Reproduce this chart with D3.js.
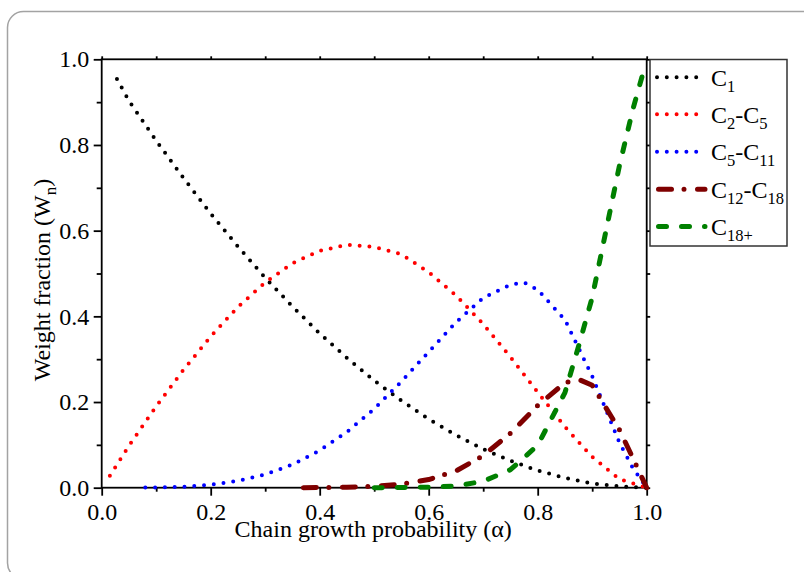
<!DOCTYPE html>
<html>
<head>
<meta charset="utf-8">
<script src="https://cdn.jsdelivr.net/npm/d3@7"></script>
<style>
  html, body { margin: 0; padding: 0; background: #fff; }
  svg { display: block; font-family: "Liberation Serif", "Times New Roman", serif; }
</style>
</head>
<body>
<svg id="chart" width="804" height="572"></svg>
<script>
// Chain growth probability (alpha) sample points and weight fractions per product cut
const alphaC1 = [0.028, 0.05, 0.1, 0.15, 0.2, 0.25, 0.3, 0.35, 0.4, 0.45, 0.5, 0.55, 0.6, 0.65, 0.7, 0.75, 0.8, 0.85, 0.9, 0.95, 1.0];
const wC1     = [0.954, 0.903, 0.81, 0.723, 0.64, 0.563, 0.49, 0.423, 0.36, 0.303, 0.25, 0.203, 0.16, 0.123, 0.09, 0.063, 0.04, 0.023, 0.01, 0.003, 0];

const alphaC2C5 = [0.015, 0.05, 0.1, 0.15, 0.2, 0.25, 0.3, 0.35, 0.4, 0.45, 0.5, 0.55, 0.6, 0.65, 0.7, 0.75, 0.8, 0.85, 0.9, 0.95, 1.0];
const wC2C5     = [0.028, 0.098, 0.19, 0.275, 0.353, 0.422, 0.479, 0.524, 0.553, 0.567, 0.562, 0.545, 0.503, 0.449, 0.382, 0.305, 0.223, 0.142, 0.072, 0.02, 0];

const alphaC5C11 = [0.08, 0.1, 0.15, 0.2, 0.25, 0.3, 0.35, 0.4, 0.45, 0.5, 0.55, 0.6, 0.65, 0.7, 0.75, 0.775, 0.8, 0.85, 0.9, 0.95, 0.975, 1.0];
const wC5C11     = [0.0002, 0.0005, 0.002, 0.007, 0.016, 0.031, 0.054, 0.087, 0.13, 0.184, 0.248, 0.317, 0.386, 0.443, 0.474, 0.479, 0.462, 0.392, 0.26, 0.105, 0.045, 0];

const alphaC12C18 = [0.37, 0.4, 0.45, 0.5, 0.55, 0.6, 0.65, 0.7, 0.75, 0.8, 0.85, 0.875, 0.9, 0.95, 0.975, 1.0];
const wC12C18     = [0, 0.0003, 0.001, 0.003, 0.008, 0.019, 0.039, 0.075, 0.127, 0.192, 0.245, 0.253, 0.239, 0.135, 0.068, 0];

const alphaC18p = [0.5, 0.55, 0.6, 0.65, 0.7, 0.75, 0.8, 0.85, 0.875, 0.9, 0.925, 0.95, 0.975, 0.992];
const wC18p     = [0, 0.0005, 0.001, 0.004, 0.015, 0.042, 0.099, 0.222, 0.33, 0.444, 0.598, 0.752, 0.885, 0.962];

// Legend labels: alternating normal / subscript parts
const labelC1     = ["C", "1"];
const labelC2C5   = ["C", "2", "-C", "5"];
const labelC5C11  = ["C", "5", "-C", "11"];
const labelC12C18 = ["C", "12", "-C", "18"];
const labelC18p   = ["C", "18+"];

const majorTicks = [0, 0.2, 0.4, 0.6, 0.8, 1.0];
const minorTicks = [0.1, 0.3, 0.5, 0.7, 0.9];
const allTicks   = [0, 0.1, 0.2, 0.3, 0.4, 0.5, 0.6, 0.7, 0.8, 0.9, 1.0];

const xTitle = "Chain growth probability (\u03b1)";

// Line styles per series
const styles = [
  { color: "#000000", width: 4, dash: "0 9.8" },
  { color: "#ff0000", width: 4, dash: "0 9.8" },
  { color: "#0000ff", width: 4, dash: "0 9.8" },
  { color: "#7f0000", width: 5, dash: "13 12.5 0 13.5" },
  { color: "#008000", width: 5, dash: "8 15" }
];

const series = [
  { label: labelC1,     a: alphaC1,     w: wC1 },
  { label: labelC2C5,   a: alphaC2C5,   w: wC2C5 },
  { label: labelC5C11,  a: alphaC5C11,  w: wC5C11 },
  { label: labelC12C18, a: alphaC12C18, w: wC12C18 },
  { label: labelC18p,   a: alphaC18p,   w: wC18p }
].map((s, i) => Object.assign(s, styles[i], { pts: s.a.map((v, j) => [v, s.w[j]]) }));

const svg = d3.select("#chart");

// outer rounded panel
svg.append("rect")
  .attr("x", 7.5).attr("y", 11.5)
  .attr("width", 900).attr("height", 567.5)
  .attr("rx", 16).attr("ry", 16)
  .attr("fill", "#fff")
  .attr("stroke", "#a3a3a3").attr("stroke-width", 1.5);

const L = 101.7, R = 646.7, T = 59.3, B = 487.7;
const x = d3.scaleLinear().domain([0, 1]).range([L, R]);
const y = d3.scaleLinear().domain([0, 1]).range([B, T]);

const fmt = d3.format(".1f");
const axisW = 1.8;

function styleAxis(g) {
  g.select(".domain").remove();
  g.selectAll("line").attr("stroke", "#000").attr("stroke-width", axisW);
  g.selectAll("text").attr("fill", "#000").style("font-size", "24px")
    .style("font-family", "'Liberation Serif', 'Times New Roman', serif");
}

// bottom axis: major with labels, minor short ticks
svg.append("g").attr("transform", `translate(0,${B})`)
  .call(d3.axisBottom(x).tickValues(majorTicks).tickFormat(fmt).tickSize(8).tickPadding(7).tickSizeOuter(0))
  .call(styleAxis);
svg.append("g").attr("transform", `translate(0,${B})`)
  .call(d3.axisBottom(x).tickValues(minorTicks).tickFormat("").tickSize(4).tickSizeOuter(0))
  .call(styleAxis);

// left axis
svg.append("g").attr("transform", `translate(${L},0)`)
  .call(d3.axisLeft(y).tickValues(majorTicks).tickFormat(fmt).tickSize(8).tickPadding(4.4).tickSizeOuter(0))
  .call(styleAxis);
svg.append("g").attr("transform", `translate(${L},0)`)
  .call(d3.axisLeft(y).tickValues(minorTicks).tickFormat("").tickSize(5).tickSizeOuter(0))
  .call(styleAxis);

// top and right axes: short outward ticks only
svg.append("g").attr("transform", `translate(0,${T})`)
  .call(d3.axisTop(x).tickValues(allTicks).tickFormat("").tickSize(3).tickSizeOuter(0))
  .call(styleAxis);
svg.append("g").attr("transform", `translate(${R},0)`)
  .call(d3.axisRight(y).tickValues(allTicks).tickFormat("").tickSize(3.5).tickSizeOuter(0))
  .call(styleAxis);

// plot frame
svg.append("rect")
  .attr("x", L).attr("y", T).attr("width", R - L).attr("height", B - T)
  .attr("fill", "none").attr("stroke", "#000").attr("stroke-width", axisW);

// curves
const line = d3.line().x(d => x(d[0])).y(d => y(d[1])).curve(d3.curveLinear);
svg.append("g").selectAll("path").data(series).join("path")
  .attr("d", d => line(d.pts))
  .attr("fill", "none")
  .attr("stroke", d => d.color)
  .attr("stroke-width", d => d.width)
  .attr("stroke-dasharray", d => d.dash)
  .attr("stroke-linecap", "round")
  .attr("stroke-linejoin", "round");

// axis titles
svg.append("text")
  .attr("x", (L + R) / 2 - 1).attr("y", 537)
  .attr("text-anchor", "middle")
  .style("font-size", "24px")
  .text(xTitle);

const yt = svg.append("text")
  .attr("transform", "translate(50,280) rotate(-90)")
  .attr("text-anchor", "middle")
  .style("font-size", "24px");
yt.append("tspan").text("Weight fraction (W");
yt.append("tspan").attr("dy", 6).style("font-size", "17px").text("n");
yt.append("tspan").attr("dy", -6).text(")");

// legend
const lg = svg.append("g");
lg.append("rect")
  .attr("x", 650).attr("y", 59.5).attr("width", 137).attr("height", 186.5)
  .attr("fill", "#fff").attr("stroke", "#333").attr("stroke-width", 1.5);

const rowBase = [85.7, 122.7, 160.2, 197.7, 235];
series.forEach((s, i) => {
  const yb = rowBase[i];
  const ly = yb - 8.5;
  const dotted = s.dash === "0 9.8";
  lg.append("line")
    .attr("x1", dotted ? 657 : 658.5).attr("x2", dotted ? 697 : 705)
    .attr("y1", ly).attr("y2", ly)
    .attr("stroke", s.color)
    .attr("stroke-width", s.width)
    .attr("stroke-dasharray", s.dash)
    .attr("stroke-linecap", "round");
  const t = lg.append("text").attr("x", 711).attr("y", yb).style("font-size", "24px");
  s.label.forEach((part, k) => {
    const sub = k % 2 === 1;
    const sp = t.append("tspan").text(part);
    if (sub) sp.attr("dy", 6).style("font-size", "16.5px");
    else if (k > 0) sp.attr("dy", -6);
  });
});
</script>
</body>
</html>
